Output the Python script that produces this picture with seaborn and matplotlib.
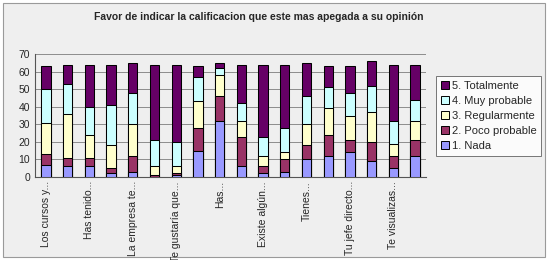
import matplotlib
matplotlib.use("Agg")
import matplotlib.pyplot as plt
from matplotlib.patches import Patch, Rectangle
from matplotlib.ticker import FixedLocator
import seaborn as sns
import pandas as pd
import numpy as np

# ---- data ----
questions = [f"P{i}" for i in range(1, 19)]
tick_labels = ["Los cursos y...", "", "Has tenido...", "", "La empresa te...", "",
               "Te gustaría que...", "", "Has...", "", "Existe algún...", "",
               "Tienes...", "", "Tu jefe directo...", "", "Te visualizas...", ""]
series_names = ["1. Nada", "2. Poco probable", "3. Regularmente", "4. Muy probable", "5. Totalmente"]
nada         = [7, 6, 6, 2, 3, 0, 1, 15, 32, 6, 2, 3, 10, 12, 14, 9, 5, 12]
poco         = [6, 5, 5, 3, 9, 1, 1, 13, 14, 17, 4, 7, 8, 12, 7, 11, 7, 9]
regular      = [18, 25, 13, 13, 18, 5, 4, 15, 12, 9, 6, 4, 12, 15, 14, 17, 7, 11]
muy          = [19, 17, 16, 23, 18, 15, 14, 14, 4, 10, 11, 14, 16, 12, 13, 15, 13, 12]
totalmente   = [13, 11, 24, 23, 17, 43, 44, 6, 3, 22, 41, 36, 19, 12, 15, 14, 32, 20]
title = "Favor de indicar la calificacion que este mas apegada a su opinión"
yticks = [0, 10, 20, 30, 40, 50, 60, 70]

colors = ["#9999FF", "#993366", "#FFFFCC", "#CCFFFF", "#660066"]

sns.set_style("white")
plt.rcParams["font.family"] = ["Liberation Sans", "DejaVu Sans"]

fig = plt.figure(figsize=(5.48, 2.60), dpi=100)
fig.patch.set_facecolor("white")
fig.patches.append(Rectangle((3 / 548, 3 / 260), 542 / 548, 254 / 260,
                             transform=fig.transFigure, facecolor="#EFEFEF",
                             edgecolor="#9a9a9a", linewidth=0.8, zorder=-10))

ax = fig.add_axes([35 / 548, 83 / 260, 391 / 548, 123 / 260])
ax.set_facecolor("#EFEFEF")

series = [nada, poco, regular, muy, totalmente]
cum = np.cumsum(np.array(series), axis=0)
df = pd.DataFrame({"q": questions})
for i in range(len(series) - 1, -1, -1):
    df["v"] = cum[i]
    sns.barplot(data=df, x="q", y="v", color=colors[i], saturation=1,
                edgecolor="black", linewidth=0.75, width=0.43, errorbar=None,
                ax=ax, zorder=3)

ax.set_xlim(-0.5, len(questions) - 0.5)
ax.set_ylim(0, 70)
ax.set_yticks(yticks)
ax.set_yticklabels([str(t) for t in yticks], fontsize=7.5)
ax.yaxis.grid(True, color="#8c8c8c", linewidth=0.7, zorder=0)
ax.set_axisbelow(True)
ax.set_xticks(range(len(questions)))
ax.set_xticklabels(tick_labels, rotation=90, fontsize=7.5)
ax.xaxis.set_minor_locator(FixedLocator(np.arange(-0.5, len(questions), 1)))
ax.tick_params(axis="x", which="major", length=0, pad=3)
ax.tick_params(axis="x", which="minor", length=3, width=0.7, color="#555555", direction="inout")
ax.tick_params(axis="y", which="major", length=3, width=0.7, color="#555555", direction="inout", pad=2)
ax.set_xlabel("")
ax.set_ylabel("")
for s in ["top", "right"]:
    ax.spines[s].set_visible(False)
for s in ["left", "bottom"]:
    ax.spines[s].set_color("#555555")
    ax.spines[s].set_linewidth(0.8)

fig.text(259 / 548, 1 - 17 / 260, title, ha="center", va="center",
         fontsize=7.5, fontweight="bold")

handles = [Patch(facecolor=colors[i], edgecolor="black", linewidth=0.7, label=series_names[i])
           for i in range(len(series_names) - 1, -1, -1)]
leg = fig.legend(handles=handles, loc="upper left", bbox_to_anchor=(436 / 548, 1 - 76 / 260),
                 fontsize=8, frameon=True, fancybox=False, handlelength=0.7,
                 handleheight=0.7, handletextpad=0.25, labelspacing=0.45,
                 borderpad=0.45, borderaxespad=0)
leg.get_frame().set_edgecolor("#555555")
leg.get_frame().set_linewidth(0.7)
leg.get_frame().set_facecolor("white")

fig.savefig("out.png", dpi=100, facecolor=fig.get_facecolor())
